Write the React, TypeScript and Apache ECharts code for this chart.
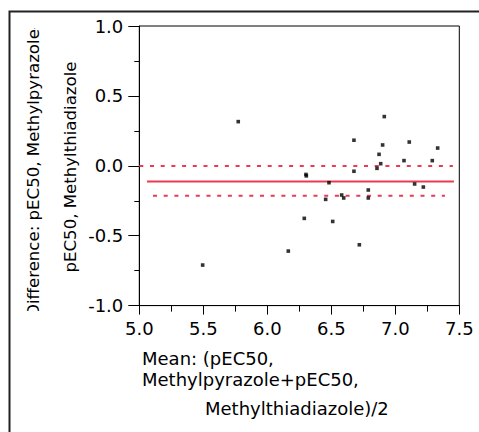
import React, { useEffect, useRef } from "react";
import * as echarts from "echarts";

// Bland-Altman data: mean of the two pEC50 values (x) and their difference (y)
const meanValues = [
  5.495, 5.773, 6.164, 6.289, 6.302, 6.305, 6.456, 6.482, 6.511, 6.581, 6.597,
  6.677, 6.677, 6.719, 6.789, 6.789, 6.857, 6.873, 6.886, 6.901, 6.914, 7.068,
  7.109, 7.151, 7.219, 7.289, 7.331,
];
const diffValues = [
  -0.71, 0.316, -0.61, -0.376, -0.062, -0.072, -0.24, -0.121, -0.398, -0.209,
  -0.23, 0.183, -0.039, -0.565, -0.173, -0.23, -0.018, 0.082, 0.015, 0.149,
  0.352, 0.037, 0.17, -0.13, -0.152, 0.037, 0.127,
];

const biasValue = -0.112;
const upperValue = -0.001;
const lowerValue = -0.214;
const biasRange = [5.06, 7.458];
const upperRange = [5.0, 7.45];
const lowerRange = [5.107, 7.388];

const xTicks = [5.0, 7.5, 0.5]; // min, max, interval
const yTicks = [-1.0, 1.0, 0.5];

const yTitleLines = ["Difference: pEC50, Methylpyrazole-", "pEC50, Methylthiadiazole"];
const xTitleLines = ["Mean: (pEC50,", "Methylpyrazole+pEC50,", "Methylthiadiazole)/2"];

const FONT = "DejaVu Sans";
const RED = "#ea3a52";

export default function App() {
  const ref = useRef<HTMLDivElement>(null);
  useEffect(() => {
    if (!ref.current) return;
    const chart = echarts.init(ref.current, undefined, { renderer: "svg" });
    const points = meanValues.map((m, i) => [m, diffValues[i]]);
    const textStyle = (fs: number) => ({ fontFamily: FONT, fontSize: fs, fill: "#000" });
    chart.setOption({
      animation: false,
      backgroundColor: "#fff",
      grid: {
        left: 139.3,
        top: 26,
        right: 19.7,
        bottom: 126.4,
        show: true,
        borderColor: "#000",
        borderWidth: 1,
        backgroundColor: "transparent",
      },
      xAxis: {
        type: "value",
        min: xTicks[0],
        max: xTicks[1],
        interval: xTicks[2],
        axisLine: { show: true, onZero: false, lineStyle: { color: "#000", width: 1 } },
        axisTick: { show: true, length: 9, lineStyle: { color: "#000" } },
        minorTick: { show: true, splitNumber: 2, length: 6, lineStyle: { color: "#000" } },
        splitLine: { show: false },
        axisLabel: {
          fontFamily: FONT,
          fontSize: 18,
          color: "#000",
          margin: 14,
          formatter: (v: number) => v.toFixed(1),
        },
      },
      yAxis: {
        type: "value",
        min: yTicks[0],
        max: yTicks[1],
        interval: yTicks[2],
        axisLine: { show: true, onZero: false, lineStyle: { color: "#000", width: 1 } },
        axisTick: { show: true, length: 11, lineStyle: { color: "#000" } },
        minorTick: { show: true, splitNumber: 2, length: 5, lineStyle: { color: "#000" } },
        splitLine: { show: false },
        axisLabel: {
          fontFamily: FONT,
          fontSize: 18,
          color: "#000",
          margin: 16,
          formatter: (v: number) => v.toFixed(1),
        },
      },
      series: [
        {
          type: "line",
          data: [
            [biasRange[0], biasValue],
            [biasRange[1], biasValue],
          ],
          symbol: "none",
          lineStyle: { color: RED, width: 2 },
          z: 2,
        },
        {
          type: "line",
          data: [
            [upperRange[0], upperValue],
            [upperRange[1], upperValue],
          ],
          symbol: "none",
          lineStyle: { color: RED, width: 2, type: [4, 6.7] },
          z: 2,
        },
        {
          type: "line",
          data: [
            [lowerRange[0], lowerValue],
            [lowerRange[1], lowerValue],
          ],
          symbol: "none",
          lineStyle: { color: RED, width: 2, type: [4, 6.7] },
          z: 2,
        },
        {
          type: "scatter",
          data: points,
          symbol: "rect",
          symbolSize: 3.6,
          itemStyle: { color: "#000" },
          z: 3,
        },
      ],
      graphic: [
        {
          type: "rect",
          shape: { x: 9.5, y: 11.5, width: 600, height: 600 },
          style: { fill: "none", stroke: "#222", lineWidth: 2 },
          z: 10,
        },
        {
          type: "text",
          x: 33,
          y: 170,
          rotation: Math.PI / 2,
          style: { ...textStyle(16.6), text: yTitleLines[0], align: "center", verticalAlign: "middle" },
          z: 10,
        },
        {
          type: "text",
          x: 70,
          y: 167,
          rotation: Math.PI / 2,
          style: { ...textStyle(16.6), text: yTitleLines[1], align: "center", verticalAlign: "middle" },
          z: 10,
        },
        {
          type: "rect",
          shape: { x: 14, y: 13, width: 42, height: 15 },
          style: { fill: "#fff" },
          z: 20,
        },
        {
          type: "rect",
          shape: { x: 14, y: 311, width: 42, height: 120 },
          style: { fill: "#fff" },
          z: 20,
        },
        {
          type: "text",
          x: 142,
          y: 358,
          style: { ...textStyle(18), text: xTitleLines[0], align: "left", verticalAlign: "middle" },
          z: 10,
        },
        {
          type: "text",
          x: 142,
          y: 379,
          style: { ...textStyle(18), text: xTitleLines[1], align: "left", verticalAlign: "middle" },
          z: 10,
        },
        {
          type: "text",
          x: 205,
          y: 408,
          style: { ...textStyle(18), text: xTitleLines[2], align: "left", verticalAlign: "middle" },
          z: 10,
        },
      ],
    });
    return () => chart.dispose();
  }, []);
  return (
    <div
      ref={ref}
      style={{ position: "fixed", left: 0, top: 0, width: 479, height: 432 }}
    />
  );
}
